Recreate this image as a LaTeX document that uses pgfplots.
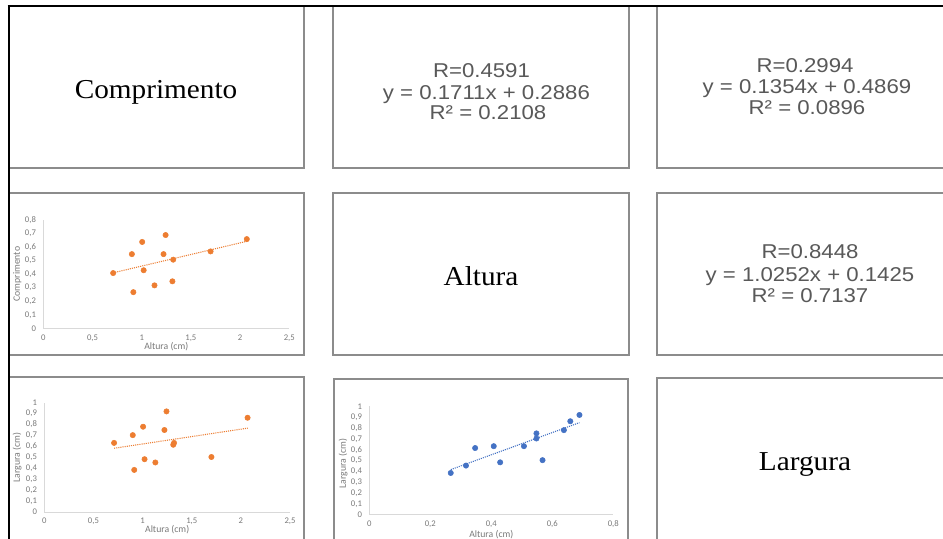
\documentclass[border=0pt]{standalone}
\usepackage{fontspec}
\setmainfont{Liberation Serif}
\newfontfamily\arial{Liberation Sans}
\newfontfamily\calibri{Carlito}
\usepackage{pgfplots}
\pgfplotsset{compat=1.18}
\usepackage{pgfplotstable}
\definecolor{xorange}{HTML}{ED7D31}
\definecolor{xblue}{HTML}{4472C4}
\definecolor{txtgray}{HTML}{595959}
\definecolor{tickgray}{HTML}{7A7A7A}
\definecolor{axgray}{HTML}{D9D9D9}
\definecolor{panelgray}{HTML}{8C8C8C}

\pgfplotstableread{
alt   comp  larg
0.710 0.408 0.632
0.900 0.548 0.703
0.915 0.267 0.385
1.005 0.638 0.780
1.020 0.429 0.483
1.130 0.317 0.453
1.222 0.548 0.750
1.243 0.689 0.920
1.312 0.347 0.615
1.320 0.507 0.632
1.700 0.568 0.503
2.068 0.659 0.862
}\data

\pgfplotsset{
  xl/.style={
    scale only axis, anchor=south west, xmin=0, ymin=0,
    axis lines=left, axis line style={-, draw=axgray, line width=0.6pt},
    major tick length=0pt, tick style={draw=none},
    ticklabel style={font=\calibri\fontsize{6.5}{7.5}\selectfont, text=tickgray},
    xticklabel style={yshift=-1.2pt},
    yticklabel style={xshift=-2pt},
    /pgf/number format/assume math mode=true,
    /pgf/number format/use comma,
    label style={font=\calibri\fontsize{7.3}{8.5}\selectfont, text=tickgray},
    xlabel style={anchor=center},
    ylabel style={anchor=center},
    clip=false,
  },
  omark/.style={only marks, mark=*, mark size=2pt, mark options={fill=xorange, draw=xorange}},
  bmark/.style={only marks, mark=*, mark size=2pt, mark options={fill=xblue, draw=xblue}},
}

\begin{document}
\begin{tikzpicture}[x=0.75pt, y=0.75pt]
\useasboundingbox (0,0) rectangle (943,539);
\clip (0,0) rectangle (943,539);
\fill[white] (0,0) rectangle (943,539);

% panels
\begin{scope}[draw=panelgray, line width=0.8pt]
\draw (8.5,371) rectangle (304,533);
\draw (333,371) rectangle (629,533);
\draw (657,371) rectangle (960,533);
\draw (8.5,184) rectangle (304,346);
\draw (333,184) rectangle (629,346);
\draw (657,184) rectangle (960,346);
\draw (8.5,-20) rectangle (304,162);
\draw (334,-20) rectangle (628,160);
\draw (657,-20) rectangle (960,161);
\end{scope}
% black frame
\draw[black, line width=1.2pt] (7.5,532.8) -- (943,532.8);
\draw[black, line width=1.5pt] (8.5,533.5) -- (8.5,0);

% headings
\begin{scope}[every node/.style={font=\fontsize{20.5}{24}\selectfont, xscale=1.07, anchor=base}]
\node at (156,440) {Comprimento};
\node at (481,253) {Altura};
\node at (805,68) {Largura};
\end{scope}

% equations
\begin{scope}[every node/.style={font=\arial\fontsize{15}{17}\selectfont, text=txtgray, xscale=1.11, anchor=base}]
\node at (481.5,461.3) {R=0.4591};
\node at (486.4,439.7) {y = 0.1711x + 0.2886};
\node at (488,419) {R² = 0.2108};
\node at (805,466) {R=0.2994};
\node at (807,445) {y = 0.1354x + 0.4869};
\node at (807,424) {R² = 0.0896};
\node at (810,280.2) {R=0.8448};
\node at (810,257) {y = 1.0252x + 0.1425};
\node at (810,236) {R² = 0.7137};
\end{scope}

% chart 1: Comprimento vs Altura
\begin{axis}[xl, at={(32.48pt,158.03pt)}, width=184.5pt, height=81.2pt,
  xmax=2.5, ymax=0.8,
  xtick={0,0.5,1,1.5,2,2.5}, ytick={0,0.1,0.2,0.3,0.4,0.5,0.6,0.7,0.8},
  xlabel={Altura (cm)}, ylabel={Comprimento},
  xlabel style={at={(axis description cs:0.5,-0.173)}},
  ylabel style={at={(axis description cs:-0.106,0.5)}}]
\addplot[omark] table[x=alt, y=comp] {\data};
\addplot[xorange, line width=0.8pt, dash pattern=on 0.8pt off 0.8pt] coordinates {(0.71,0.410) (2.07,0.643)};
\end{axis}

% chart 2: Largura vs Altura
\begin{axis}[xl, at={(33.23pt,20.25pt)}, width=184.3pt, height=82pt,
  xmax=2.5, ymax=1,
  xtick={0,0.5,1,1.5,2,2.5}, ytick={0,0.1,0.2,0.3,0.4,0.5,0.6,0.7,0.8,0.9,1},
  xlabel={Altura (cm)}, ylabel={Largura (cm)},
  xlabel style={at={(axis description cs:0.5,-0.165)}},
  ylabel style={at={(axis description cs:-0.11,0.5)}}]
\addplot[omark] table[x=alt, y=larg] {\data};
\addplot[xorange, line width=0.8pt, dash pattern=on 0.8pt off 0.8pt] coordinates {(0.71,0.583) (2.07,0.767)};
\end{axis}

% chart 3: Largura vs Comprimento
\begin{axis}[xl, at={(276.98pt,18.23pt)}, width=183pt, height=81.3pt,
  xmax=0.8, ymax=1,
  xtick={0,0.2,0.4,0.6,0.8}, ytick={0,0.1,0.2,0.3,0.4,0.5,0.6,0.7,0.8,0.9,1},
  xlabel={Altura (cm)}, ylabel={Largura (cm)},
  xlabel style={at={(axis description cs:0.5,-0.18)}},
  ylabel style={at={(axis description cs:-0.107,0.47)}}]
\addplot[bmark] table[x=comp, y=larg] {\data};
\addplot[xblue, line width=0.8pt, dash pattern=on 0.8pt off 0.8pt] coordinates {(0.267,0.416) (0.689,0.849)};
\end{axis}
\end{tikzpicture}
\end{document}
